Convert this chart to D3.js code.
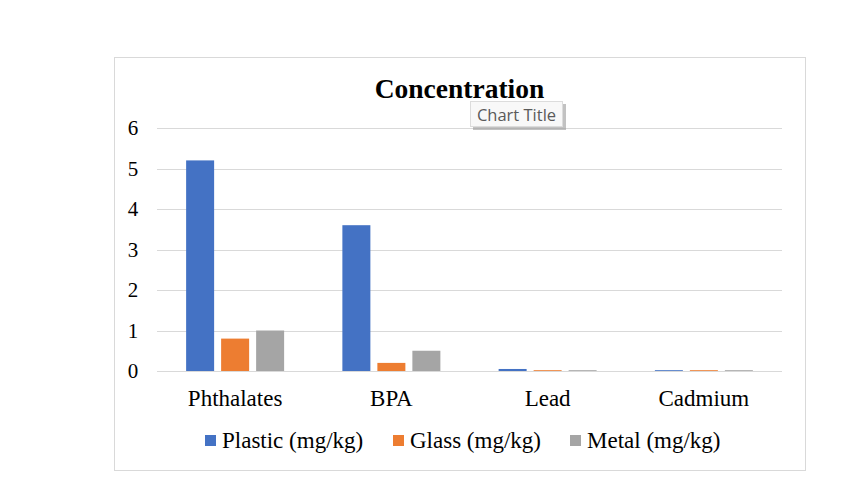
<!DOCTYPE html>
<html>
<head>
<meta charset="utf-8">
<script src="https://cdn.jsdelivr.net/npm/d3@7"></script>
<style>
  body { margin: 0; background: #fff; }
  svg { display: block; }
</style>
</head>
<body>
<svg width="860" height="484"></svg>
<script>
// --- Data ---
const categories = ["Phthalates", "BPA", "Lead", "Cadmium"];
const seriesNames = ["Plastic (mg/kg)", "Glass (mg/kg)", "Metal (mg/kg)"];
const plastic = [5.2, 3.6, 0.05, 0.02];
const glass = [0.8, 0.2, 0.02, 0.02];
const metal = [1.0, 0.5, 0.02, 0.02];
const yTicks = [0, 1, 2, 3, 4, 5, 6];
const colors = ["#4472c4", "#ed7d31", "#a5a5a5"];

const series = [plastic, glass, metal];

const svg = d3.select("svg");
const font = "'Liberation Serif', 'Times New Roman', serif";

// chart frame
svg.append("rect")
  .attr("x", 114.5).attr("y", 57.5)
  .attr("width", 691).attr("height", 413)
  .attr("fill", "#fff").attr("stroke", "#d9d9d9");

const x0 = d3.scaleBand().domain(categories).range([157, 782]);
const x1 = d3.scaleBand().domain(d3.range(seriesNames.length))
  .range([-52.5, 52.5]).paddingInner(0.2).paddingOuter(0.1);
const y = d3.scaleLinear().domain([0, 6]).range([371, 128]);

// gridlines
svg.append("g").selectAll("line")
  .data(yTicks)
  .join("line")
  .attr("x1", 157).attr("x2", 782)
  .attr("y1", d => Math.round(y(d)) + 0.5)
  .attr("y2", d => Math.round(y(d)) + 0.5)
  .attr("stroke", "#d9d9d9");

// y tick labels
svg.append("g").selectAll("text")
  .data(yTicks)
  .join("text")
  .attr("x", 133)
  .attr("y", d => y(d))
  .attr("dy", "0.35em")
  .attr("text-anchor", "middle")
  .style("font-family", font)
  .style("font-size", "21px")
  .attr("fill", "#000")
  .text(d => d);

// bars
const groups = svg.append("g").selectAll("g")
  .data(categories)
  .join("g")
  .attr("transform", d => `translate(${x0(d) + x0.bandwidth() / 2},0)`);

groups.selectAll("rect")
  .data((c, i) => series.map((s, k) => ({ k, v: s[i] })))
  .join("rect")
  .attr("x", d => x1(d.k))
  .attr("width", x1.bandwidth())
  .attr("y", d => y(d.v))
  .attr("height", d => y(0) - y(d.v))
  .attr("fill", d => colors[d.k]);

// x axis line redrawn over bars
svg.append("line")
  .attr("x1", 157).attr("x2", 782)
  .attr("y1", Math.round(y(0)) + 0.5).attr("y2", Math.round(y(0)) + 0.5)
  .attr("stroke", "#d9d9d9");

// category labels
svg.append("g").selectAll("text")
  .data(categories)
  .join("text")
  .attr("x", d => x0(d) + x0.bandwidth() / 2)
  .attr("y", 398)
  .attr("dy", "0.35em")
  .attr("text-anchor", "middle")
  .style("font-family", font)
  .style("font-size", "23px")
  .text(d => d);

// title
svg.append("text")
  .attr("x", 459.5).attr("y", 88)
  .attr("dy", "0.35em")
  .attr("text-anchor", "middle")
  .style("font-family", font)
  .style("font-size", "27.5px")
  .style("font-weight", "bold")
  .text("Concentration");

// legend
const legendX = [205, 393, 570];
const legend = svg.append("g").selectAll("g")
  .data(seriesNames)
  .join("g")
  .attr("transform", (d, i) => `translate(${legendX[i]},440)`);
legend.append("rect")
  .attr("x", 0).attr("y", -5)
  .attr("width", 11).attr("height", 11)
  .attr("fill", (d, i) => colors[i]);
legend.append("text")
  .attr("x", 17).attr("y", 0)
  .attr("dy", "0.35em")
  .style("font-family", font)
  .style("font-size", "23px")
  .text(d => d);

// tooltip "Chart Title"
const tip = svg.append("g").attr("transform", "translate(470,101)");
tip.append("rect")
  .attr("x", 3).attr("y", 3).attr("width", 93).attr("height", 26)
  .attr("fill", "#9a9a9a").attr("opacity", 0.6);
tip.append("rect")
  .attr("x", 0.5).attr("y", 0.5).attr("width", 92).attr("height", 25)
  .attr("fill", "#f8f8f8").attr("stroke", "#dcdcdc");
tip.append("text")
  .attr("x", 46.5).attr("y", 14)
  .attr("dy", "0.35em")
  .attr("text-anchor", "middle")
  .style("font-family", "'Open Sans', 'Noto Sans', sans-serif")
  .style("font-size", "16.5px")
  .attr("fill", "#5a5a5a")
  .text("Chart Title");
</script>
</body>
</html>
